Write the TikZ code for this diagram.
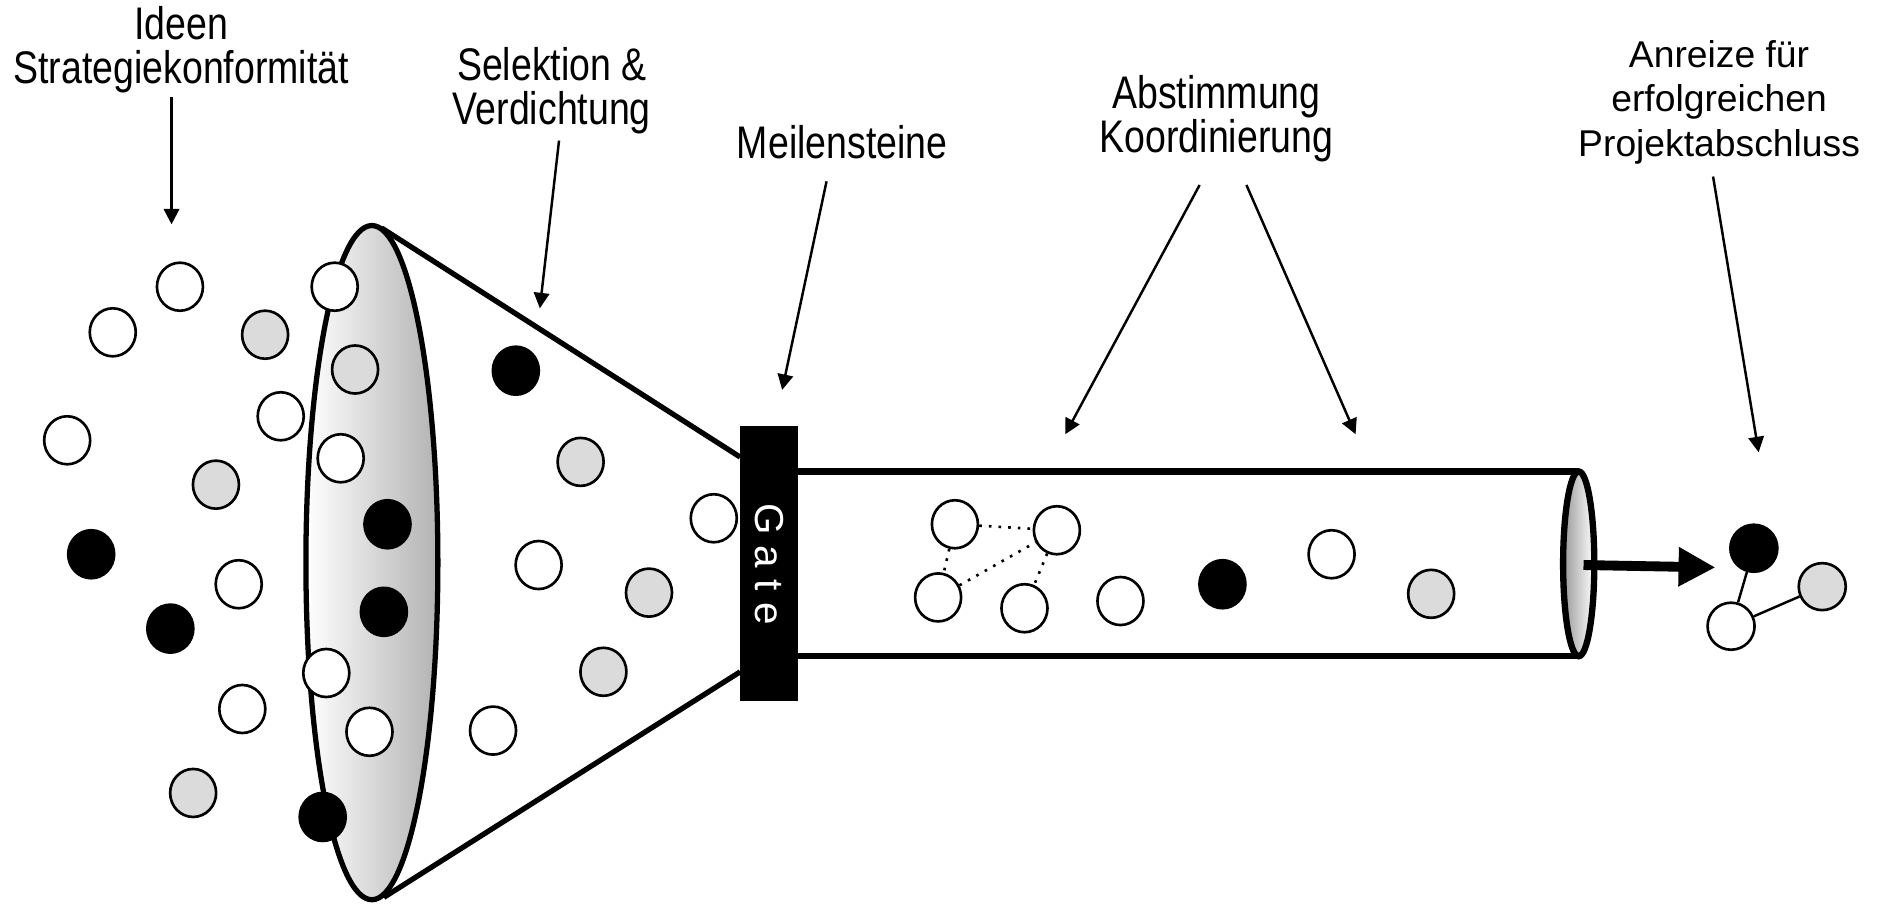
\documentclass[tikz,border=0pt]{standalone}
\usepackage{fontspec}
\setmainfont{Liberation Sans}
\newfontfamily\narrowfont[FakeStretch=0.82]{Liberation Sans}
\usetikzlibrary{shapes.geometric, arrows.meta, positioning, calc}

\definecolor{ballgrey}{gray}{0.86}

\begin{document}
\begin{tikzpicture}[
  x=0.012cm, y=-0.012cm,
  wball/.style={ellipse, draw, line width=0.75pt, fill=white,
                minimum width=0.46cm, minimum height=0.48cm, inner sep=0pt},
  gball/.style={wball, fill=ballgrey},
  bball/.style={wball, fill=black},
  tag/.style={align=center, anchor=north, inner sep=0pt,
              font=\narrowfont\fontsize{13}{12.46}\selectfont},
  widetag/.style={tag, font=\fontsize{10.6}{12.63}\selectfont},
  pointer/.style={-{Triangle[length=4.4pt, width=4.4pt]}, line width=0.7pt},
  outline/.style={line width=1.5pt},
  tubeline/.style={line width=1.8pt},
  dotlink/.style={dotted, line width=0.75pt},
]
  \fill[white] (0,0) rectangle (1568,754);

  % funnel mouth and cone
  \draw[outline, left color=white, right color=gray!60]
    (310,469) ellipse [x radius=55, y radius=281];
  \draw[outline] (318,190) -- (617,381);
  \draw[outline] (320,748) -- (617,560);

  % tube with shaded end cap
  \draw[tubeline] (665,393) -- (1316,393);
  \draw[tubeline] (665,547) -- (1316,547);
  \draw[tubeline, left color=gray!80, right color=white]
    (1316,470) ellipse [x radius=13, y radius=77];
  \coordinate (cap) at (1320,471);

  % gate
  \node[fill=black, text=white, rotate=-90, inner sep=0pt,
        minimum width=2.75cm, minimum height=0.58cm,
        font=\fontsize{11.5}{11.5}\selectfont] (gate) at (641,470) {G a t e};

  % ideas in front of and inside the funnel
  \foreach \x/\y/\s [count=\i] in {
      150/239/wball, 94/277/wball, 221/279/gball, 234/347/wball,
      56/367/wball, 180/404/gball, 76/462/bball, 199/487/wball,
      142/524/bball, 202/591/wball, 161/661/gball,
      279/239/wball, 296/308/gball, 284/382/wball, 323/437/bball,
      320/510/bball, 272/561/wball, 308/610/wball, 269/681/bball,
      430/309/bball, 484/385/gball, 595/432/wball, 449/471/wball,
      541/494/gball, 503/560/gball, 411/609/wball}
    \node[\s] (p\i) at (\x,\y) {};

  % projects in the tube
  \foreach \x/\y/\s [count=\i] in {
      796/437/wball, 881/442/wball, 782/498/wball, 854/507/wball,
      934/501/wball, 1019/487/bball, 1110/462/wball, 1193/495/gball}
    \node[\s] (t\i) at (\x,\y) {};
  \draw[dotlink] (t1) -- (t2);
  \draw[dotlink] (t1) -- (t3);
  \draw[dotlink] (t3) -- (t2);
  \draw[dotlink] (t2) -- (t4);

  % finished projects
  \node[bball, minimum width=0.47cm, minimum height=0.47cm] (r1) at (1462,457) {};
  \node[wball, minimum width=0.47cm, minimum height=0.47cm] (r2) at (1443,522) {};
  \node[gball, minimum width=0.47cm, minimum height=0.47cm] (r3) at (1519,489) {};
  \draw[line width=0.7pt] (r1) -- (r2);
  \draw[line width=0.7pt] (r2) -- (r3);
  \coordinate (out) at (1430,473);
  \draw[line width=2.8pt, -{Triangle[length=10.5pt, width=10.5pt]}] (cap) -- (out);

  % labels
  \node[tag] (ideen) at (151,5) {Ideen\\Strategiekonformität};
  \node[tag] (selektion) at (460,39) {Selektion \&\\Verdichtung};
  \node[tag] (meilen) at (702,104) {Meilensteine};
  \node[tag] (abstimm) at (1014,62) {Abstimmung\\Koordinierung};
  \node[widetag] (anreize) at (1433,33) {Anreize für\\erfolgreichen\\Projektabschluss};

  \coordinate (to-ideen) at (143,187);
  \coordinate (to-sel) at (450,257);
  \coordinate (to-gate) at (652,325);
  \coordinate (to-tube1) at (888,362);
  \coordinate (to-tube2) at (1130,362);
  \coordinate (to-out) at (1466,377);

  \draw[pointer] ($(ideen.south)+(-8,3)$) -- (to-ideen);
  \draw[pointer] ($(selektion.south)+(6,5)$) -- (to-sel);
  \draw[pointer] ($(meilen.south)+(-13,18)$) -- (to-gate);
  \draw[pointer] ($(abstimm.south)+(-14,19)$) -- (to-tube1);
  \draw[pointer] ($(abstimm.south)+(25,19)$) -- (to-tube2);
  \draw[pointer] ($(anreize.south)+(-5,10)$) -- (to-out);
\end{tikzpicture}
\end{document}
